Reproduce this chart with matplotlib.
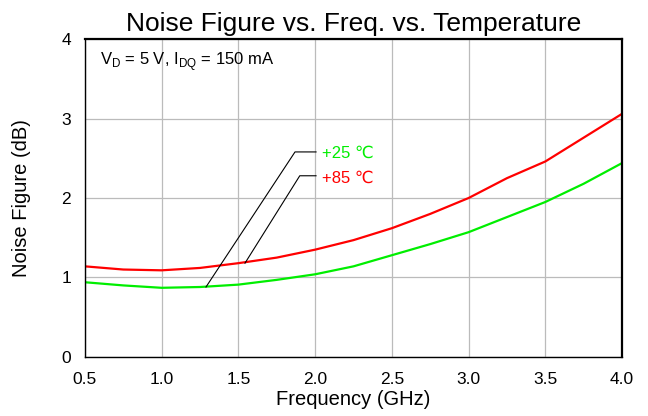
#!/usr/bin/env python3

import matplotlib
matplotlib.use("Agg")
import matplotlib.pyplot as plt


freq_ghz = [0.5, 0.75, 1.0, 1.25, 1.5, 1.75, 2.0, 2.25, 2.5, 2.75, 3.0, 3.25, 3.5, 3.75, 4.0]
nf_25c = [0.94, 0.90, 0.87, 0.88, 0.91, 0.97, 1.04, 1.14, 1.28, 1.42, 1.57, 1.76, 1.95, 2.18, 2.44]
nf_85c = [1.14, 1.10, 1.09, 1.12, 1.18, 1.25, 1.35, 1.47, 1.62, 1.80, 2.00, 2.25, 2.46, 2.76, 3.06]

x_ticks = [0.5, 1.0, 1.5, 2.0, 2.5, 3.0, 3.5, 4.0]
x_tick_labels = ["0.5", "1.0", "1.5", "2.0", "2.5", "3.0", "3.5", "4.0"]
y_ticks = [0, 1, 2, 3, 4]

plt.rcParams["font.family"] = ["Liberation Sans", "DejaVu Sans"]

fig = plt.figure(figsize=(6.48, 4.16), dpi=100)
ax = fig.add_axes([0.131, 0.142, 0.829, 0.764])

ax.plot(freq_ghz, nf_25c, color="#00ee00", lw=1.6)
ax.plot(freq_ghz, nf_85c, color="#ff0000", lw=1.6)

ax.set_xlim(0.5, 4.0)
ax.set_ylim(0, 4)
ax.set_xticks(x_ticks)
ax.set_xticklabels(x_tick_labels)
ax.set_yticks(y_ticks)
ax.tick_params(axis="x", length=0, labelsize=12.5, pad=11)
ax.tick_params(axis="y", length=0, labelsize=12.5, pad=10)
ax.grid(True, color="#bbbbbb", lw=0.9)
ax.set_axisbelow(True)
for side in ("left", "bottom"):
    ax.spines[side].set_linewidth(1.0)
ax.spines["right"].set_linewidth(1.6)
ax.spines["top"].set_linewidth(1.6)

ax.set_xlabel("Frequency (GHz)", fontsize=14.5, labelpad=2)
ax.set_ylabel("Noise Figure (dB)", fontsize=14.5, labelpad=22)
ax.set_title("Noise Figure vs. Freq. vs. Temperature", fontsize=19, pad=6)

ax.text(0.6, 3.72, r"V$_\mathregular{D}$ = 5 V, I$_\mathregular{DQ}$ = 150 mA", fontsize=12, va="center")

# leader lines to the curve labels
ax.plot([1.289, 1.869, 2.006], [0.88, 2.58, 2.58], color="black", lw=0.8)
ax.plot([1.543, 1.90, 2.006], [1.18, 2.28, 2.28], color="black", lw=0.8)
ax.text(2.045, 2.56, "+25 \u2103", color="#00ee00", fontsize=12, va="center")
ax.text(2.045, 2.25, "+85 \u2103", color="#ff0000", fontsize=12, va="center")

fig.savefig("out.png", dpi=100)
